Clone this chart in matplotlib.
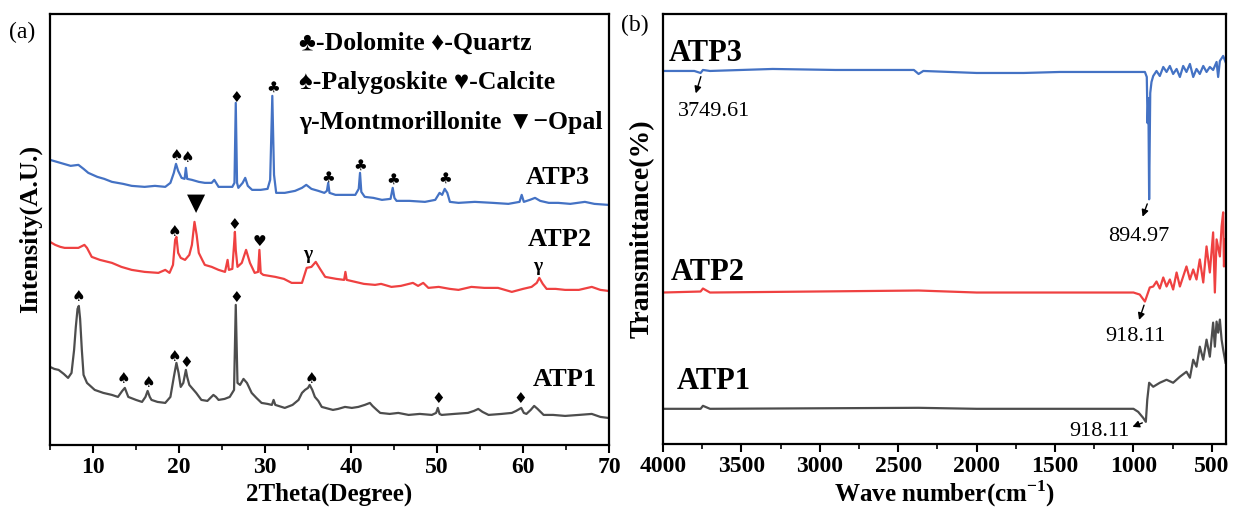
import matplotlib
matplotlib.use("Agg")
import matplotlib.pyplot as plt
from matplotlib.ticker import MultipleLocator

plt.rcParams['font.family'] = ['Liberation Serif', 'DejaVu Sans']
plt.rcParams['mathtext.fontset'] = 'custom'
plt.rcParams['mathtext.rm'] = 'Liberation Serif'
plt.rcParams['mathtext.bf'] = 'Liberation Serif:bold'

# ---- (a) XRD patterns, intensity in arbitrary units ----
atp3_theta = [5.0, 5.8, 6.6, 7.4, 8.3, 8.9, 9.45, 10.5, 11.3, 12.2, 13.5, 14.5, 16.0, 17.2, 18.4,
              19.0, 19.4, 19.65, 19.9, 20.3, 20.65, 20.8, 20.95, 21.5, 22.3, 23.0, 23.8, 24.1, 24.6,
              25.5, 26.2, 26.45, 26.6, 26.75, 26.9, 27.4, 27.7, 28.0, 28.5, 29.5, 30.3, 30.6, 30.85,
              31.05, 31.3, 32.3, 33.5, 34.3, 34.8, 35.4, 36.2, 36.9, 37.2, 37.35, 37.5, 38.2, 39.3,
              40.5, 40.9, 41.05, 41.2, 41.6, 42.6, 43.6, 44.6, 44.85, 45.05, 45.3, 46.8, 48.6, 49.8,
              50.3, 50.6, 50.9, 51.2, 51.5, 52.5, 54.4, 56.5, 58.3, 59.6, 59.85, 60.1, 60.8, 61.4,
              62.0, 63.0, 64.1, 65.5, 67.2, 68.3, 69.9]
atp3_int = [285, 283, 281, 279, 280, 276, 272, 268, 266, 263, 261, 259, 258, 259, 258,
            262, 272, 281, 274, 267, 266, 277, 266, 265, 263, 262, 262, 265, 258,
            258, 258, 262, 342, 262, 257, 262, 267, 259, 255, 255, 256, 265, 349,
            270, 252, 252, 254, 257, 260, 256, 254, 252, 254, 262, 252, 250, 250,
            250, 256, 272, 253, 248, 247, 245, 246, 257, 247, 244, 244, 243, 245,
            252, 250, 256, 252, 243, 242, 243, 242, 241, 243, 250, 243, 245, 247,
            244, 242, 242, 241, 243, 241, 240]

atp2_theta = [5.0, 5.6, 6.2, 6.7, 7.5, 8.3, 9.0, 9.3, 9.85, 10.8, 12.2, 13.3, 14.5, 16.0, 17.6,
              18.4, 18.9, 19.3, 19.55, 19.7, 19.9, 20.2, 20.7, 21.2, 21.5, 21.8, 22.05, 22.3, 22.7,
              23.0, 23.8, 24.6, 25.35, 25.65, 25.8, 26.2, 26.4, 26.5, 26.6, 26.8, 27.3, 27.8, 28.25,
              28.8, 29.2, 29.35, 29.5, 29.8, 31.2, 32.2, 33.1, 34.3, 34.85, 35.4, 35.9, 36.4, 37.0,
              38.3, 39.2, 39.35, 39.5, 40.5, 41.5, 42.8, 43.5, 44.7, 45.8, 47.2, 47.8, 48.4, 49.0,
              50.2, 51.5, 52.5, 54.0, 55.5, 57.1, 58.7, 60.0, 61.0, 61.6, 61.9, 62.3, 62.75, 63.8,
              64.9, 66.5, 68.0, 69.0, 69.9]
atp2_int = [203, 200, 198, 197, 197, 197, 200, 197, 188, 185, 182, 178, 175, 173, 172,
            175, 172, 180, 205, 208, 192, 187, 185, 190, 200, 223, 210, 192, 185,
            180, 178, 175, 173, 185, 175, 176, 200, 213, 195, 178, 182, 195, 182,
            172, 173, 195, 172, 170, 168, 166, 162, 162, 177, 178, 183, 176, 168,
            166, 165, 173, 165, 163, 161, 160, 161, 158, 159, 162, 159, 162, 157,
            158, 156, 155, 158, 157, 157, 153, 156, 158, 162, 167, 161, 156, 156,
            155, 155, 158, 155, 154]

atp1_theta = [5.0, 5.5, 6.0, 6.6, 7.1, 7.5, 7.8, 8.0, 8.2, 8.35, 8.5, 8.7, 8.9, 9.3, 10.2,
              11.2, 12.2, 12.9, 13.4, 13.7, 14.1, 15.0, 15.7, 16.1, 16.35, 16.6, 16.8, 17.5, 18.4,
              19.0, 19.4, 19.7, 19.95, 20.2, 20.5, 20.8, 20.95, 21.2, 21.5, 22.0, 22.6, 23.3, 24.0,
              24.3, 24.6, 25.3, 25.9, 26.4, 26.6, 26.8, 27.1, 27.5, 27.9, 28.45, 29.0, 29.6, 30.3,
              30.8, 31.0, 31.2, 32.3, 33.2, 33.9, 34.3, 34.65, 35.0, 35.2, 35.5, 35.8, 36.2, 36.6,
              37.9, 38.5, 39.3, 40.1, 40.85, 41.6, 42.2, 42.5, 43.0, 43.4, 44.5, 45.5, 46.7, 48.0,
              49.4, 49.9, 50.1, 50.3, 50.55, 52.0, 53.6, 54.3, 54.8, 55.3, 56.0, 57.5, 58.7, 59.2,
              59.8, 60.1, 60.4, 60.9, 61.3, 61.7, 62.4, 63.5, 64.9, 66.5, 68.0, 69.0, 69.9]
atp1_int = [78, 76, 75, 71, 67, 72, 95, 118, 136, 139, 126, 95, 70, 62, 55,
            52, 50, 48, 54, 57, 48, 45, 43, 48, 54, 48, 45, 43, 42,
            48, 68, 82, 72, 58, 62, 75, 68, 60, 57, 52, 45, 44, 50,
            48, 45, 46, 48, 55, 140, 62, 60, 66, 62, 52, 47, 42, 41,
            40, 45, 40, 37, 40, 45, 52, 55, 57, 60, 55, 48, 44, 38,
            35, 36, 38, 37, 38, 40, 42, 39, 35, 32, 31, 32, 30, 31,
            30, 32, 37, 31, 30, 31, 32, 34, 36, 33, 30, 31, 32, 34,
            37, 32, 31, 35, 39, 36, 30, 30, 29, 30, 31, 28, 27]

# phase markers (symbol, 2theta, height)
xrd_marks = [('♠', 19.7, 289), ('♠', 21.0, 287), ('♦', 26.6, 347), ('♣', 30.9, 358),
             ('♣', 37.4, 268), ('♣', 41.05, 280), ('♣', 44.9, 266), ('♣', 50.9, 267),
             ('♠', 19.5, 213), ('♦', 26.4, 220), ('♥', 29.3, 203),
             ('♠', 8.3, 148), ('♠', 13.5, 66), ('♠', 16.4, 62), ('♠', 19.5, 88), ('♦', 20.9, 82),
             ('♦', 26.6, 147), ('♠', 35.35, 66), ('♦', 50.15, 46), ('♦', 59.7, 46)]
gamma_marks = [(35.0, 190), (61.75, 178)]
opal_mark = (21.95, 242)
legend_lines = ['♣-Dolomite ♦-Quartz', '♠-Palygoskite ♥-Calcite', 'γ-Montmorillonite ▼−Opal']

# ---- (b) FTIR spectra ----
ir3_wn = [4000, 3800, 3760, 3745, 3700, 3300, 2900, 2400, 2370, 2340, 2000, 1700, 1470, 978, 927,
          915, 910, 905, 900, 893, 885, 874, 853, 832, 810, 789, 768, 747, 725, 704, 683, 662,
          640, 619, 598, 577, 555, 534, 513, 492, 470, 460, 449, 428, 413]
ir3_t = [372, 372, 370, 373, 372, 374, 373, 373, 369, 372, 370, 370, 371, 371, 371,
         366, 320, 345, 244, 350, 361, 367, 372, 367, 376, 371, 377, 369, 374, 366, 377, 371,
         379, 366, 374, 369, 377, 371, 376, 373, 381, 366, 382, 387, 381]

ir2_wn = [4000, 3760, 3745, 3700, 2370, 2000, 1500, 1000, 960, 927, 918, 896, 874, 853, 832, 810,
          789, 768, 747, 725, 704, 683, 662, 640, 619, 598, 577, 555, 534, 513, 492, 481, 470,
          449, 438, 428, 423, 413]
ir2_t = [151, 152, 155, 151, 153, 151, 151, 151, 149, 142, 146, 156, 157, 162, 155, 166,
         157, 164, 154, 171, 157, 167, 177, 164, 174, 164, 184, 161, 197, 171, 211, 151, 204,
         187, 217, 231, 177, 204]

ir1_wn = [4000, 3760, 3745, 3700, 2370, 2000, 1500, 1000, 970, 938, 921, 912, 900, 874, 832,
          789, 747, 704, 662, 640, 619, 598, 577, 555, 534, 513, 492, 481, 470, 460, 449, 438,
          428, 413]
ir1_t = [35, 35, 38, 35, 36, 35, 35, 35, 32, 26, 22, 44, 61, 57, 61,
         64, 61, 67, 72, 66, 84, 77, 97, 84, 104, 87, 121, 97, 122, 111, 124, 104,
         94, 81]

ir_notes = [('3749.61', 3753, 369, 3796, 347, 3675, 332),
            ('894.97', 906, 242, 948, 224, 965, 207),
            ('918.11', 927, 141, 970, 121, 988, 107),
            ('918.11', 927, 22, 1023, 16, 1214, 12)]

c_blue, c_red, c_grey = '#4472c4', '#ef4141', '#4d4d4d'
bold = dict(fontweight='bold')

fig = plt.figure(figsize=(12.38, 5.12), dpi=100)
ax1 = fig.add_axes([0.0404, 0.131, 0.4515, 0.842])
ax2 = fig.add_axes([0.5355, 0.133, 0.4548, 0.840])

for ax in (ax1, ax2):
    for s in ax.spines.values():
        s.set_linewidth(1.6)
    ax.set_yticks([])
    ax.tick_params(axis='x', direction='out', width=1.5, length=6, labelsize=17, pad=3)
    ax.tick_params(axis='x', which='minor', direction='out', width=1.2, length=3.5)

# (a)
ax1.plot(atp3_theta, atp3_int, color=c_blue, lw=1.6)
ax1.plot(atp2_theta, atp2_int, color=c_red, lw=1.6)
ax1.plot(atp1_theta, atp1_int, color=c_grey, lw=1.6)
ax1.set_xlim(5, 70)
ax1.set_ylim(0, 431)
ax1.xaxis.set_major_locator(MultipleLocator(10))
ax1.xaxis.set_minor_locator(MultipleLocator(5))
for lab in ax1.get_xticklabels():
    lab.set_fontweight('bold')
ax1.set_xlabel('2Theta(Degree)', fontsize=18, labelpad=3, **bold)
ax1.set_ylabel('Intensity(A.U.)', fontsize=19, labelpad=6, **bold)

for sym, x, y in xrd_marks:
    ax1.text(x, y, sym, fontsize=11, ha='center', va='center', family='DejaVu Sans')
for x, y in gamma_marks:
    ax1.text(x, y, 'γ', fontsize=14, ha='center', va='center', **bold)
ax1.text(opal_mark[0], opal_mark[1], '▼', fontsize=17, ha='center', va='center', family='DejaVu Sans')

for i, line in enumerate(legend_lines):
    ax1.text(34.0, 402 - i * 40, line, fontsize=18.5, ha='left', va='center', **bold)

ax1.text(64.1, 267, 'ATP3', fontsize=19, ha='center', va='center', **bold)
ax1.text(64.3, 205, 'ATP2', fontsize=19, ha='center', va='center', **bold)
ax1.text(64.9, 65, 'ATP1', fontsize=19, ha='center', va='center', **bold)
fig.text(0.018, 0.937, '(a)', fontsize=17, ha='center', va='center')

# (b)
ax2.plot(ir3_wn, ir3_t, color=c_blue, lw=1.6)
ax2.plot(ir2_wn, ir2_t, color=c_red, lw=1.6)
ax2.plot(ir1_wn, ir1_t, color=c_grey, lw=1.6)
ax2.set_xlim(4000, 410)
ax2.set_ylim(0, 429)
ax2.xaxis.set_major_locator(MultipleLocator(500))
ax2.xaxis.set_minor_locator(MultipleLocator(250))
for lab in ax2.get_xticklabels():
    lab.set_fontweight('bold')
ax2.set_xlabel(r'Wave number(cm$^{\mathbf{-1}}$)', fontsize=18, labelpad=1, **bold)
ax2.set_ylabel('Transmittance(%)', fontsize=20, labelpad=6, **bold)

for txt, x0, y0, x1, y1, tx, ty in ir_notes:
    ax2.annotate('', xy=(x1, y1), xytext=(x0, y0),
                 arrowprops=dict(arrowstyle='-|>', color='black', lw=1.0, mutation_scale=10))
    ax2.text(tx, ty, txt, fontsize=16, ha='center', va='center')

ax2.text(3962, 389, 'ATP3', fontsize=22, ha='left', va='center', **bold)
ax2.text(3950, 171, 'ATP2', fontsize=22, ha='left', va='center', **bold)
ax2.text(3910, 62, 'ATP1', fontsize=22, ha='left', va='center', **bold)
fig.text(0.513, 0.951, '(b)', fontsize=17, ha='center', va='center')

fig.savefig('out.png', dpi=100)
